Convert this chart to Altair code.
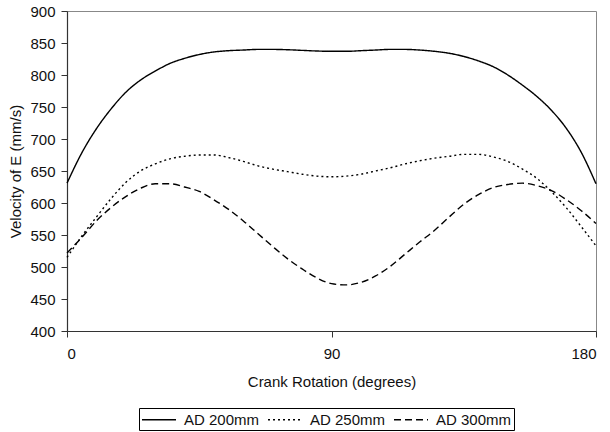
import altair as alt
import pandas as pd

# Crank rotation angles (degrees)
crank_deg = [0, 5, 10, 15, 20, 25, 30, 35, 40, 45, 50, 55, 60, 65, 70, 75, 80, 85, 90,
             95, 100, 105, 110, 115, 120, 125, 130, 135, 140, 145, 150, 155, 160, 165, 170,
             175, 180]

# Velocity of E (mm/s) for each AD length
ad200 = [631, 678, 716, 747, 773, 792, 806, 818, 826, 832, 836, 838, 839, 840, 840, 839.5,
         838.5, 837.5, 837, 837, 838, 839, 840, 840, 839, 837, 834, 829, 822, 813, 800, 784,
         766, 744, 716, 679, 630]
ad250 = [515, 548, 578, 607, 632, 650, 661, 669, 673, 675, 675, 671, 665, 658, 653, 649,
         645, 642, 641, 642, 645, 650, 655, 661, 666, 670, 673, 676, 676, 672, 665, 653, 638,
         617, 592, 563, 533]
ad300 = [522, 546, 572, 593, 610, 623, 630, 630, 625, 618, 605, 590, 572, 552, 532, 513,
         497, 483, 474, 472, 476, 486, 501, 520, 539, 557, 578, 598, 613, 624, 629, 631, 627,
         619, 605, 588, 568]

series_names = ["AD 200mm", "AD 250mm", "AD 300mm"]
y_ticks = [400, 450, 500, 550, 600, 650, 700, 750, 800, 850, 900]
x_ticks = [0, 90, 180]

rows = []
for name, vals in zip(series_names, [ad200, ad250, ad300]):
    for d, v in zip(crank_deg, vals):
        rows.append({"deg": d, "vel": v, "series": name})
df = pd.DataFrame(rows)

FONT = "Liberation Sans"
TXT = "#111111"
AX = "#333333"

chart = alt.Chart(df).mark_line(
    color="black", strokeWidth=1.4, interpolate="monotone"
).encode(
    x=alt.X(
        "deg:Q",
        scale=alt.Scale(domain=[0, 180], nice=False, zero=False),
        axis=alt.Axis(
            values=x_ticks, title="Crank Rotation (degrees)", grid=False,
            tickSize=6, labelPadding=9, titlePadding=13,
        ),
    ),
    y=alt.Y(
        "vel:Q",
        scale=alt.Scale(domain=[400, 900], nice=False, zero=False),
        axis=alt.Axis(
            values=y_ticks, title="Velocity of E (mm/s)", grid=False,
            tickSize=6, labelPadding=6, titlePadding=6,
        ),
    ),
    strokeDash=alt.StrokeDash(
        "series:N",
        scale=alt.Scale(domain=series_names, range=[[1, 0], [2, 3], [7, 4]]),
        legend=alt.Legend(
            title=None, orient="none", legendX=72, legendY=397,
            direction="horizontal", symbolType="M-1,0H3", symbolSize=289,
            symbolStrokeColor="black", symbolStrokeWidth=1.4,
            labelFontSize=15, labelFont=FONT, labelColor=TXT,
            labelOffset=24, columnPadding=5, padding=2,
            strokeColor="black",
        ),
    ),
).properties(
    width=529,
    height=320,
    autosize=alt.AutoSizeParams(type="none"),
    padding={"left": 67, "top": 11, "right": 14, "bottom": 101},
).configure_view(
    stroke="#888888", strokeWidth=1
).configure_axis(
    labelFont=FONT, titleFont=FONT, labelFontSize=15, titleFontSize=15,
    labelColor=TXT, titleColor=TXT, titleFontWeight="normal",
    domainColor=AX, tickColor=AX, domainWidth=1.2, tickWidth=1,
)

chart.save("out.html", embed_options={"renderer": "svg", "actions": False})
